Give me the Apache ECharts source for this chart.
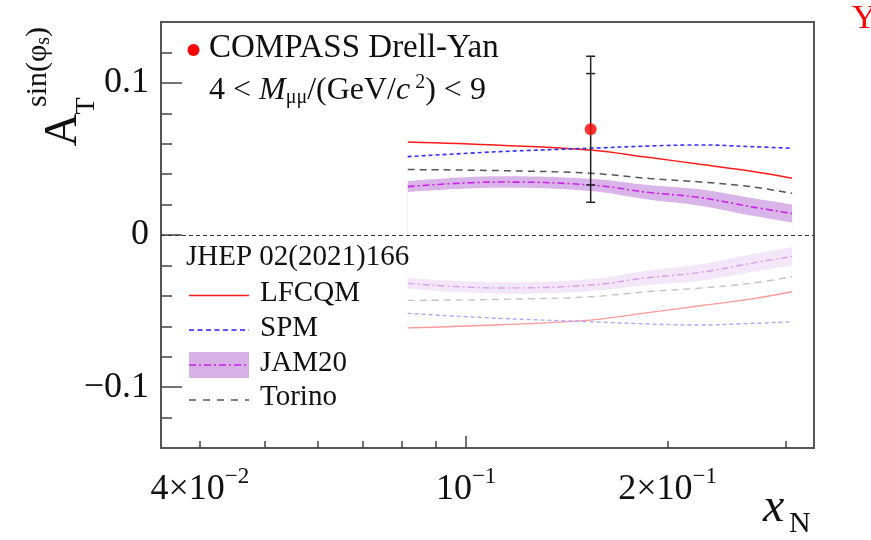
<!DOCTYPE html>
<html>
<head>
<meta charset="utf-8">
<title>A_T sin(phi_S) vs x_N</title>
<script src="https://cdn.jsdelivr.net/npm/echarts@6/dist/echarts.min.js"></script>
<style>
  html, body { margin: 0; padding: 0; background: #fff; }
  #chart { width: 871px; height: 540px; }
</style>
</head>
<body>
<div id="chart"></div>
<script>
var SERIF = '"Liberation Serif", "Times New Roman", serif';

// model curves (x_N nodes)
var xNodes = [0.0818, 0.1123, 0.1531, 0.1882, 0.2236, 0.2657, 0.307];
var lfcqm  = [0.0611, 0.0590, 0.0559, 0.0509, 0.0465, 0.0421, 0.0373];
var spm    = [0.0515, 0.0548, 0.0570, 0.0585, 0.0592, 0.0581, 0.0570];
var torino = [0.0430, 0.0423, 0.0406, 0.0371, 0.0349, 0.0318, 0.0274];
var jam20  = [0.0318, 0.0348, 0.0329, 0.0279, 0.0246, 0.0187, 0.0141];
var jamLow = [0.0282, 0.0310, 0.0289, 0.0231, 0.0192, 0.0129, 0.0081];
var jamHigh = [0.0354, 0.0386, 0.0369, 0.0327, 0.0300, 0.0245, 0.0201];

// COMPASS point
var dpX = [0.1535];
var dpY = [0.0695];
var statErr = [0.0366];
var totErr = [0.048];

// axes
var xMin = 0.035, xMax = 0.331;
var xTickValues = [0.04, 0.05, 0.06, 0.07, 0.08, 0.09, 0.2, 0.3];
var xMajorTick = [0.1];
var xLabelValues = [0.04, 0.1, 0.2];
var xLabelBase = ['4×10', '10', '2×10'];
var xLabelExp = ['−2', '−1', '−1'];
var yTickValues = [-0.1, 0, 0.1];
var yTickLabels = ['−0.1', '0', '0.1'];
var yMinorTicks = [-0.12, -0.08, -0.06, -0.04, -0.02, 0.02, 0.04, 0.06, 0.08, 0.12];

function lx(v) { return Math.log(v) / Math.LN10; }
function pairs(ys) {
    return xNodes.map(function (x, i) { return [lx(x), ys[i]]; });
}
function neg(arr) { return arr.map(function (v) { return -v; }); }

function curve(ys, color, type, width, z) {
    return {
        type: 'line', data: pairs(ys), smooth: 0.4, symbol: 'none', silent: true,
        lineStyle: { color: color, type: type, width: width }, z: z || 4
    };
}
// band = area from outer edge to 0, then the inner edge to 0 painted white again
function band(outer, inner, fill) {
    var base = { type: 'line', smooth: 0.4, symbol: 'none', silent: true,
                 lineStyle: { opacity: 0, width: 0 } };
    return [
        Object.assign({}, base, { z: 1, data: pairs(outer), areaStyle: { color: fill, opacity: 1, origin: 0 } }),
        Object.assign({}, base, { z: 2, data: pairs(inner), areaStyle: { color: '#ffffff', opacity: 1, origin: 0 } })
    ];
}

var chart = echarts.init(document.getElementById('chart'));

var tickStyle = { color: '#444', width: 1.5 };
var hidden = { show: false, onZero: false };

var series = [];
series = series.concat(band(jamHigh, jamLow, '#d8b4e8'));
series = series.concat(band(neg(jamHigh), neg(jamLow), '#f3e6f8'));
series.push(curve(neg(lfcqm), '#ff9a9a', 'solid', 1.3));
series.push(curve(neg(spm), '#a8a8ff', [4, 3], 1.4));
series.push(curve(neg(torino), '#c4c4c4', [7, 5], 1.4));
series.push(curve(neg(jam20), '#d8a0f0', [7, 3, 2, 3], 1.4));
series.push(curve(lfcqm, '#ff1a1a', 'solid', 1.5));
series.push(curve(spm, '#3030ff', [4, 3], 1.6));
series.push(curve(torino, '#555555', [7, 5], 1.5));
series.push(curve(jam20, '#cc22ee', [7, 3, 2, 3], 1.6));

// zero line
series[series.length - 1].markLine = {
    silent: true, symbol: ['none', 'none'], label: { show: false },
    lineStyle: { color: '#333', type: [4, 3], width: 1.2 },
    data: [{ yAxis: 0 }]
};

// error bar, stat (inner caps) and total (outer caps)
series.push({
    type: 'custom', z: 8, silent: true,
    data: [[lx(dpX[0]), dpY[0], statErr[0], totErr[0]]],
    encode: { x: 0, y: 1 },
    renderItem: function (params, api) {
        var x = api.value(0), y = api.value(1), st = api.value(2), tot = api.value(3);
        var hi = api.coord([x, y + tot]), lo = api.coord([x, y - tot]);
        var sHi = api.coord([x, y + st]), sLo = api.coord([x, y - st]);
        var hw = 4.5, st0 = { stroke: '#222', lineWidth: 1.5 };
        function seg(a, b, c, d) {
            return { type: 'line', shape: { x1: a, y1: b, x2: c, y2: d }, style: st0 };
        }
        return {
            type: 'group',
            children: [
                seg(hi[0], hi[1], lo[0], lo[1]),
                seg(hi[0] - hw, hi[1], hi[0] + hw, hi[1]),
                seg(lo[0] - hw, lo[1], lo[0] + hw, lo[1]),
                seg(sHi[0] - hw, sHi[1], sHi[0] + hw, sHi[1]),
                seg(sLo[0] - hw, sLo[1], sLo[0] + hw, sLo[1])
            ]
        };
    }
});
series.push({
    type: 'scatter', z: 9, silent: true, symbolSize: 12,
    itemStyle: { color: '#ff0000' },
    data: [[lx(dpX[0]), dpY[0]]]
});

// legend and texts drawn by hand (ROOT look)
function txt(x, y, text, size, extra, rot) {
    var s = { text: text, x: 0, y: 0, fill: '#111', font: size + 'px ' + SERIF,
              align: 'left', textAlign: 'left', verticalAlign: 'middle', textVerticalAlign: 'middle' };
    if (extra) Object.assign(s, extra);
    return { type: 'text', x: x, y: y, rotation: rot || 0, style: s, z: 20 };
}
function lseg(x1, x2, y, color, dash, w) {
    return { type: 'line', shape: { x1: x1, y1: y, x2: x2, y2: y }, z: 20,
             style: { stroke: color, lineWidth: w || 1.5, lineDash: dash || null } };
}
var UP = Math.PI / 2;
var mid = { align: 'center', textAlign: 'center' };

var graphics = [
    // y title, rotated
    txt(64, 130, 'A', 46, mid, UP),
    txt(87, 106, 'T', 28, mid, UP),
    txt(38, 67, '{a|sin(φ}{b|s}{a|)}', 30, {
        align: 'center', textAlign: 'center',
        rich: {
            a: { fontSize: 30, fontFamily: SERIF, lineHeight: 36 },
            b: { fontSize: 20, fontFamily: SERIF, verticalAlign: 'bottom', padding: [0, 0, 2, 0] }
        }
    }, UP),
    // x title
    txt(763, 508, 'x', 48, { font: 'italic 48px ' + SERIF }),
    txt(789, 524, 'N', 30),
    // header
    { type: 'circle', shape: { cx: 193.5, cy: 50, r: 6 }, style: { fill: '#ff0000' }, z: 20 },
    txt(209, 48, 'COMPASS Drell-Yan', 33),
    txt(209, 91, '{n|4 < }{i|M}{s|μμ}{n|/(GeV/}{i|c}{p| 2}{n|) < 9}', 32, {
        rich: {
            n: { fontSize: 32, fontFamily: SERIF, lineHeight: 40 },
            i: { fontSize: 32, fontFamily: SERIF, fontStyle: 'italic', lineHeight: 40 },
            s: { fontSize: 20, fontFamily: SERIF, verticalAlign: 'bottom', padding: [0, 0, 3, 0] },
            p: { fontSize: 20, fontFamily: SERIF, verticalAlign: 'top', padding: [2, 0, 0, 0] }
        }
    }),
    // legend
    txt(186, 257.5, 'JHEP 02(2021)166', 29),
    lseg(189, 249, 295.5, '#ff1a1a', null, 1.5),
    txt(260, 293, 'LFCQM', 29),
    lseg(189, 249, 330, '#2020ff', [5, 3.5], 1.5),
    txt(260, 328, 'SPM', 29),
    { type: 'rect', shape: { x: 189, y: 352, width: 60, height: 26 }, style: { fill: '#d6b0e6' }, z: 19 },
    lseg(189, 249, 365, '#cc22ee', [7, 3, 2, 3], 1.5),
    txt(260, 363, 'JAM20', 29),
    lseg(189, 249, 400, '#555555', [7, 7], 1.5),
    txt(260, 397.5, 'Torino', 29),
    // clipped caption at top right
    txt(852, 19, 'Y', 34, { fill: '#ff0000' })
];

var option = {
    animation: false,
    backgroundColor: '#fff',
    grid: {
        left: 161, right: 57, top: 22, bottom: 92,
        show: true, borderColor: '#555', borderWidth: 2, backgroundColor: 'transparent',
        containLabel: false, outerBoundsMode: 'none'
    },
    xAxis: [{
        type: 'value', position: 'bottom', min: lx(xMin), max: lx(xMax),
        axisLine: hidden, splitLine: { show: false },
        axisTick: { show: true, inside: true, length: 7, customValues: xTickValues.map(lx), lineStyle: tickStyle },
        axisLabel: {
            customValues: xLabelValues.map(lx), margin: 17, color: '#111',
            formatter: function (v) {
                for (var i = 0; i < xLabelValues.length; i++) {
                    if (Math.abs(lx(xLabelValues[i]) - v) < 1e-6) {
                        return '{b|' + xLabelBase[i] + '}{s|' + xLabelExp[i] + '}';
                    }
                }
                return '';
            },
            rich: {
                b: { fontSize: 36, fontFamily: SERIF, color: '#111', lineHeight: 50 },
                s: { fontSize: 23, fontFamily: SERIF, color: '#111', verticalAlign: 'top', padding: [0, 0, 0, 0] }
            }
        }
    }, {
        type: 'value', position: 'bottom', min: lx(xMin), max: lx(xMax),
        axisLine: hidden, splitLine: { show: false }, axisLabel: { show: false },
        axisTick: { show: true, inside: true, length: 12, customValues: xMajorTick.map(lx), lineStyle: tickStyle }
    }],
    yAxis: [{
        type: 'value', position: 'left', min: -0.14, max: 0.14,
        axisLine: hidden, splitLine: { show: false },
        axisTick: { show: true, inside: true, length: 21, customValues: yTickValues, lineStyle: tickStyle },
        axisLabel: {
            customValues: yTickValues, margin: 12, color: '#111', fontSize: 36, fontFamily: SERIF,
            formatter: function (v) {
                for (var i = 0; i < yTickValues.length; i++) {
                    if (Math.abs(yTickValues[i] - v) < 1e-9) return yTickLabels[i];
                }
                return '';
            }
        }
    }, {
        type: 'value', position: 'left', min: -0.14, max: 0.14,
        axisLine: hidden, splitLine: { show: false }, axisLabel: { show: false },
        axisTick: { show: true, inside: true, length: 11, customValues: yMinorTicks, lineStyle: tickStyle }
    }],
    graphic: { elements: graphics },
    series: series
};

chart.setOption(option);
</script>
</body>
</html>
